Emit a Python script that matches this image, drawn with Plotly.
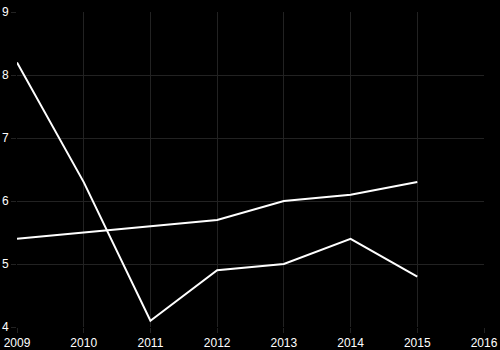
import plotly.graph_objects as go

years = [2009, 2010, 2011, 2012, 2013, 2014, 2015]
series_a = [8.2, 6.3, 4.1, 4.9, 5.0, 5.4, 4.8]
series_b = [5.4, 5.5, 5.6, 5.7, 6.0, 6.1, 6.3]
x_ticks = [2009, 2010, 2011, 2012, 2013, 2014, 2015, 2016]
y_ticks = [4, 5, 6, 7, 8, 9]

fig = go.Figure()
for ys in (series_a, series_b):
    fig.add_trace(go.Scatter(x=years, y=ys, mode="lines",
                             line=dict(color="#ffffff", width=2),
                             showlegend=False))

grid = "#222222"
fig.update_layout(
    template="none",
    width=500, height=350,
    margin=dict(l=17, r=16, t=12, b=23, pad=0),
    paper_bgcolor="#000000", plot_bgcolor="#000000",
    font=dict(family="Liberation Sans, Arial, sans-serif", size=12, color="#ffffff"),
    xaxis=dict(range=[2009, 2016], tickvals=x_ticks, showgrid=True, gridcolor=grid,
               gridwidth=1, zeroline=False, showline=False, ticks="outside", ticklen=5,
               tickcolor=grid, automargin=False),
    yaxis=dict(range=[4, 9], tickvals=y_ticks, showgrid=True, gridcolor=grid,
               gridwidth=1, zeroline=False, showline=False, ticks="outside", ticklen=5,
               tickcolor=grid, automargin=False),
)
fig.write_html("out.html")
